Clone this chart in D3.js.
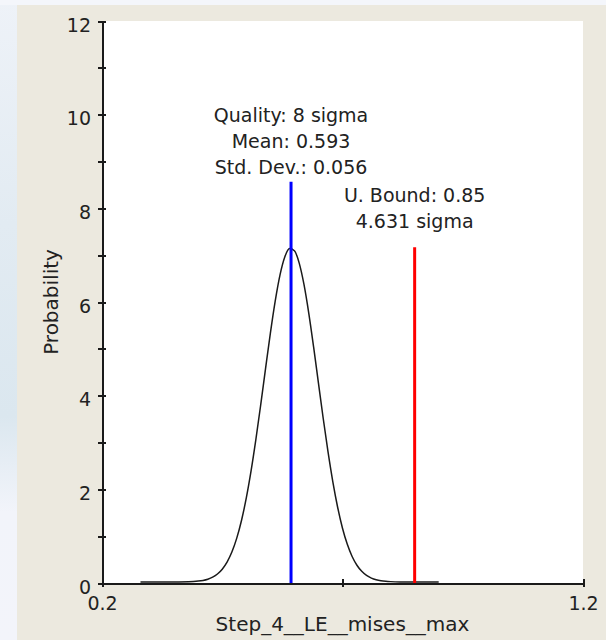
<!DOCTYPE html>
<html>
<head>
<meta charset="utf-8">
<script src="https://cdn.jsdelivr.net/npm/d3@7"></script>
<style>
  html, body { margin: 0; padding: 0; background: #f3f5fa; }
  svg { display: block; }
  .axis path, .axis line { stroke: #1a1a1a; stroke-width: 2; shape-rendering: crispEdges; }
  .axis text { font-family: "DejaVu Sans", sans-serif; font-size: 19px; fill: #222; }
  .note { font-family: "DejaVu Sans", sans-serif; font-size: 19px; fill: #222; text-anchor: middle; }
  .title { font-family: "DejaVu Sans", sans-serif; font-size: 20px; fill: #222; text-anchor: middle; }
</style>
</head>
<body>
<script>
// ---- data ----
var curveX = [0.28, 0.33, 0.36, 0.38, 0.39, 0.40, 0.41, 0.42, 0.43, 0.44, 0.45, 0.46, 0.47, 0.48, 0.49,
              0.50, 0.51, 0.52, 0.53, 0.54, 0.55, 0.56, 0.57, 0.58, 0.59, 0.60, 0.61, 0.62, 0.63, 0.64,
              0.65, 0.66, 0.67, 0.68, 0.69, 0.70, 0.71, 0.72, 0.73, 0.74, 0.75, 0.76, 0.77, 0.78, 0.79,
              0.80, 0.82, 0.86, 0.90];
var curveY = [0, 0, 0.001, 0.005, 0.010, 0.019, 0.034, 0.060, 0.103, 0.171, 0.274, 0.425, 0.639, 0.931, 1.314,
              1.795, 2.377, 3.049, 3.787, 4.556, 5.310, 5.993, 6.553, 6.940, 7.120, 7.074, 6.809, 6.348, 5.732, 5.013,
              4.247, 3.486, 2.771, 2.133, 1.591, 1.149, 0.804, 0.545, 0.358, 0.228, 0.140, 0.084, 0.048, 0.027, 0.015,
              0.008, 0.002, 0, 0];

var meanValue = 0.593;
var meanLineTop = 8.57;
var boundValue = 0.85;
var boundLineTop = 7.17;

var meanLabels = ["Quality: 8 sigma", "Mean: 0.593", "Std. Dev.: 0.056"];
var boundLabels = ["U. Bound: 0.85", "4.631 sigma"];

var xTicks = [0.2, 0.7, 1.2];
var xTickLabels = ["0.2", "", "1.2"];
var yTicks = [0, 1, 2, 3, 4, 5, 6, 7, 8, 9, 10, 11, 12];
var yTickLabels = ["0", "", "2", "", "4", "", "6", "", "8", "", "10", "", "12"];

var xLabel = "Step_4__LE__mises__max";
var yLabel = "Probability";

// ---- layout ----
var W = 606, H = 640;
var plot = {left: 102, right: 583, top: 21, bottom: 583};

var svg = d3.select("body").append("svg")
    .attr("width", W)
    .attr("height", H);

// page background (bluish clouds) and the panel
var defs = svg.append("defs");
var grad = defs.append("linearGradient")
    .attr("id", "bg").attr("x1", 0).attr("y1", 0).attr("x2", 0).attr("y2", 1);
grad.append("stop").attr("offset", "0%").attr("stop-color", "#eef2f8");
grad.append("stop").attr("offset", "35%").attr("stop-color", "#e2ebf2");
grad.append("stop").attr("offset", "65%").attr("stop-color", "#dbe7ef");
grad.append("stop").attr("offset", "80%").attr("stop-color", "#f2f4fa");
grad.append("stop").attr("offset", "100%").attr("stop-color", "#f3f4fa");

svg.append("rect").attr("width", W).attr("height", H).attr("fill", "url(#bg)");
svg.append("rect").attr("width", W).attr("height", 5).attr("fill", "#f4f6fb");
svg.append("rect")
    .attr("x", 17).attr("y", 5)
    .attr("width", W - 17).attr("height", H - 5)
    .attr("fill", "#ece9df");
svg.append("rect")
    .attr("x", plot.left).attr("y", plot.top)
    .attr("width", plot.right - plot.left).attr("height", plot.bottom - plot.top)
    .attr("fill", "#ffffff");

var x = d3.scaleLinear().domain([0.2, 1.2]).range([plot.left, plot.right]);
var y = d3.scaleLinear().domain([0, 12]).range([plot.bottom, plot.top]);

// normal curve (sits a pixel above the axis, so the flat tails look heavy)
var pts = curveX.map(function(d, i) { return [d, curveY[i]]; });
var line = d3.line()
    .x(function(d) { return x(d[0]); })
    .y(function(d) { return y(d[1]); })
    .curve(d3.curveMonotoneX);

svg.append("path")
    .datum(pts)
    .attr("d", line)
    .attr("transform", "translate(0,-1)")
    .attr("fill", "none")
    .attr("stroke", "#1a1a1a")
    .attr("stroke-width", 1.5);

// axes
var yAxis = svg.append("g")
    .attr("class", "axis")
    .attr("transform", "translate(" + plot.left + ",0)")
    .call(d3.axisLeft(y).tickValues(yTicks).tickSizeOuter(0).tickSize(4)
        .tickFormat(function(d, i) { return yTickLabels[i]; }));
yAxis.selectAll(".tick line").attr("x1", -4).attr("x2", 4);
yAxis.selectAll(".tick text").attr("dy", null).attr("y", 10).attr("x", -11);

var xAxis = svg.append("g")
    .attr("class", "axis")
    .attr("transform", "translate(0," + plot.bottom + ")")
    .call(d3.axisBottom(x).tickValues(xTicks).tickSizeOuter(0).tickSize(4)
        .tickFormat(function(d, i) { return xTickLabels[i]; }));
xAxis.selectAll(".tick line").attr("y1", -4).attr("y2", 4);
xAxis.selectAll(".tick text").attr("dy", null).attr("y", 26.5);

// mean and bound lines
svg.append("line")
    .attr("x1", x(meanValue)).attr("x2", x(meanValue))
    .attr("y1", y(0)).attr("y2", y(meanLineTop))
    .attr("stroke", "#0000ff").attr("stroke-width", 3);

svg.append("line")
    .attr("x1", x(boundValue)).attr("x2", x(boundValue))
    .attr("y1", y(0)).attr("y2", y(boundLineTop))
    .attr("stroke", "#ff0000").attr("stroke-width", 3);

// annotations
meanLabels.forEach(function(t, i) {
    svg.append("text")
        .attr("class", "note")
        .attr("x", x(meanValue))
        .attr("y", 122 + i * 26)
        .text(t);
});
boundLabels.forEach(function(t, i) {
    svg.append("text")
        .attr("class", "note")
        .attr("x", x(boundValue))
        .attr("y", 202 + i * 26)
        .text(t);
});

// axis titles
svg.append("text")
    .attr("class", "title")
    .attr("x", (plot.left + plot.right) / 2)
    .attr("y", 631)
    .text(xLabel);

svg.append("text")
    .attr("class", "title")
    .attr("transform", "translate(58," + (plot.top + plot.bottom) / 2 + ") rotate(-90)")
    .text(yLabel);
</script>
</body>
</html>
